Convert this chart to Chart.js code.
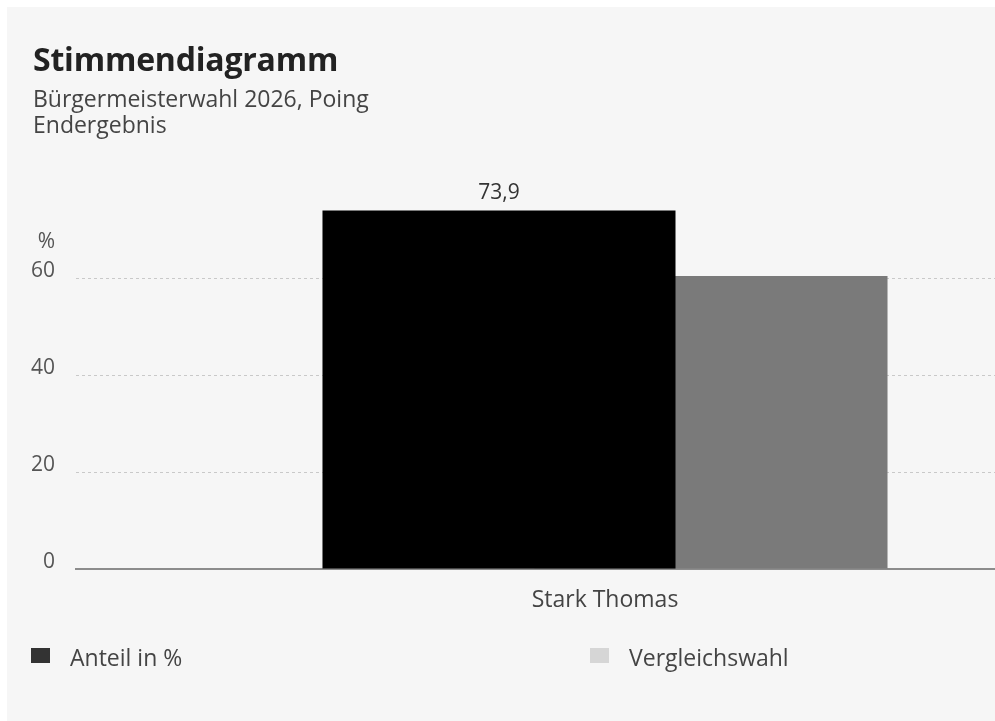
<!DOCTYPE html>
<html>
<head>
<meta charset="utf-8">
<script src="https://cdn.jsdelivr.net/npm/chart.js@4.4.1/dist/chart.umd.min.js"></script>
<style>
  html, body { margin: 0; padding: 0; background: #ffffff; overflow: hidden; width: 995px; height: 721px; }
  #panel { position: absolute; left: 7px; top: 7px; width: 988px; height: 714px; background: #f6f6f6; overflow: hidden; font-family: "Open Sans", sans-serif; }
  #title { position: absolute; left: 26px; top: 30px; font-size: 32px; font-weight: 700; color: #222; white-space: nowrap; letter-spacing: -0.2px; }
  #subtitle { position: absolute; left: 26px; top: 78px; font-size: 23px; line-height: 26px; color: #444; white-space: nowrap; }
  #chartBox { position: absolute; left: -7px; top: -7px; width: 1140px; height: 721px; }
  .leg { position: absolute; top: 636px; height: 28px; font-size: 23px; color: #444; white-space: nowrap; display: flex; align-items: center; }
  .sw { display: inline-block; width: 19px; height: 15px; margin-right: 20px; position: relative; top: -2px; }
</style>
</head>
<body>
<div id="panel">
  <div id="chartBox"><canvas id="c" width="1140" height="721" style="width:1140px;height:721px"></canvas></div>
  <div id="title"></div>
  <div id="subtitle"></div>
  <div id="legend"></div>
</div>
<script>
const titleText = "Stimmendiagramm";
const subtitleLines = ["Bürgermeisterwahl 2026, Poing", "Endergebnis"];
const categories = ["Stark Thomas"];
const seriesNames = ["Anteil in %", "Vergleichswahl"];
const anteil = [73.9];
const vergleich = [60.4];
const yTicks = [0, 20, 40, 60];
const yUnit = "%";
const barColors = ["#000000", "#7a7a7a"];
const legendColors = ["#333333", "#d6d6d6"];

document.getElementById("title").textContent = titleText;
document.getElementById("subtitle").innerHTML = subtitleLines.map(s => s.replace(/&/g,"&amp;").replace(/</g,"&lt;")).join("<br>");

const legendLeft = [24, 583];
const legendEl = document.getElementById("legend");
seriesNames.forEach((n, i) => {
  const d = document.createElement("div");
  d.className = "leg";
  d.style.left = legendLeft[i] + "px";
  const sw = document.createElement("span");
  sw.className = "sw";
  sw.style.background = legendColors[i];
  d.appendChild(sw);
  d.appendChild(document.createTextNode(n));
  legendEl.appendChild(d);
});

const fmt = v => v.toLocaleString("de-DE", { minimumFractionDigits: 1, maximumFractionDigits: 1 });

const extras = {
  id: "extras",
  afterDatasetsDraw(chart) {
    const ctx = chart.ctx;
    const meta = chart.getDatasetMeta(0);
    ctx.save();
    ctx.font = "21px 'Open Sans', sans-serif";
    ctx.fillStyle = "#333";
    ctx.textAlign = "center";
    ctx.textBaseline = "alphabetic";
    meta.data.forEach((bar, i) => {
      ctx.fillText(fmt(anteil[i]), bar.x, bar.y - 12);
    });
    const y = chart.scales.y;
    const topTick = yTicks[yTicks.length - 1];
    ctx.font = "21px 'Open Sans', sans-serif";
    ctx.fillStyle = "#555";
    ctx.textAlign = "right";
    ctx.textBaseline = "middle";
    ctx.fillText(yUnit, y.right - 21, y.getPixelForValue(topTick) - 7 - 29);
    ctx.restore();
  }
};

new Chart(document.getElementById("c"), {
  type: "bar",
  data: {
    labels: categories,
    datasets: [
      { label: seriesNames[0], data: anteil, backgroundColor: barColors[0], categoryPercentage: 0.4008, barPercentage: 1.665 },
      { label: seriesNames[1], data: vergleich, backgroundColor: barColors[1], categoryPercentage: 0.4008, barPercentage: 1.665 }
    ]
  },
  options: {
    responsive: false,
    animation: false,
    devicePixelRatio: 1,
    layout: { padding: { top: 181, right: 6, left: 0, bottom: 100 } },
    plugins: { legend: { display: false }, tooltip: { enabled: false }, title: { display: false } },
    scales: {
      x: {
        grid: { display: false, drawTicks: false },
        border: { color: "#8c8c8c", width: 2 },
        ticks: { color: "#444", font: { family: "'Open Sans', sans-serif", size: 23 }, padding: 18 },
        afterFit(s) { s.height = 52; }
      },
      y: {
        min: 0, max: 80,
        afterBuildTicks(s) { s.ticks = yTicks.map(v => ({ value: v })); },
        grid: { color: "#c9c9c9", drawTicks: false, lineWidth: 1 },
        border: { display: false, dash: [3, 3] },
        ticks: { color: "#555", font: { family: "'Open Sans', sans-serif", size: 21 }, padding: 21, labelOffset: -7 },
        afterFit(s) { s.width = 76; }
      }
    }
  },
  plugins: [extras]
});
</script>
</body>
</html>
